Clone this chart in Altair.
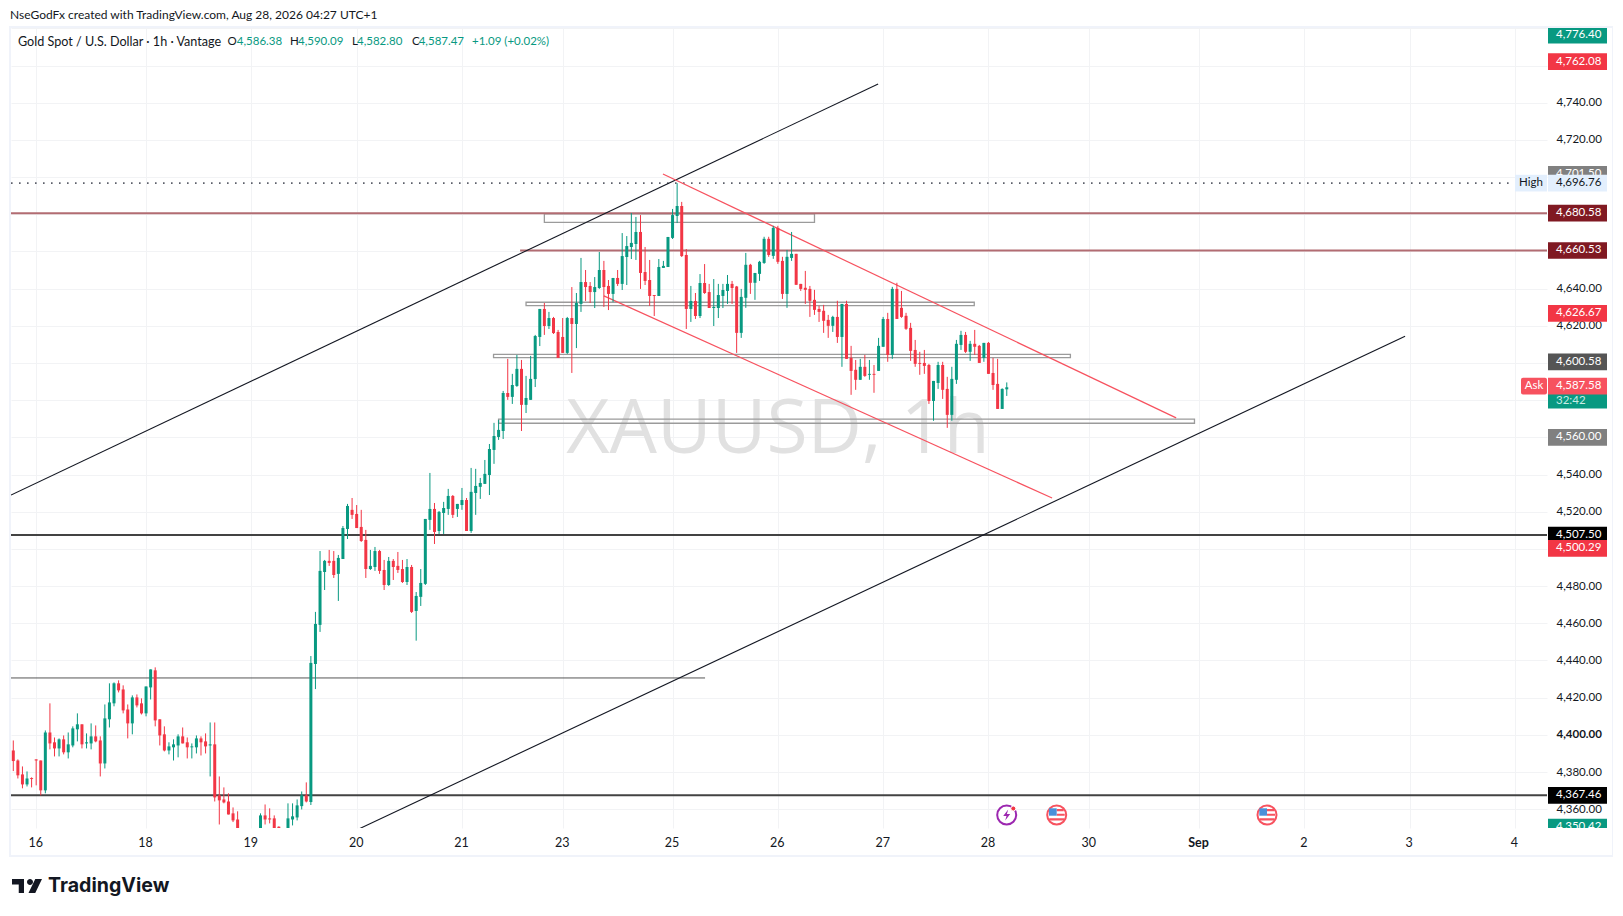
import altair as alt
import pandas as pd

FONT = "Lato"

DIRECTION = ("RRRGRRRGRR" "GRGGGRGGRR" "GGGRRRGRRG" "GRRRGGGRRG" "GRRGRRRRRR"
             "RRGGGRRRRG" "GGGGRGGGGR" "RGGGRRRRGG" "RRGRRRGRGG" "GGRGGGRGGR"
             "GGGGGGGGRG" "GRGGGGRGRR" "RGRGGRRGGR" "RGRGGGGRRR" "RGGGGGRRGR"
             "GRRGGGGRRG" "GRGGGRGRRG" "GRRRRRRRRG" "RGRRRGRGRG" "GRGRRRRRRR"
             "RGGRRGGGRG" "RRGRRRGG")

HIGH = [4397.1,4386.9,4383.1,4380.4,4377.2,4386.9,4386.3,4402.5,4417.1,4398.7,
        4398.2,4399.8,4401.4,4404.7,4411.7,4405.8,4400.9,4406.3,4405.2,4399.3,
        4416.5,4427.9,4428.4,4429.5,4426.8,4416.5,4421.4,4421.9,4419.8,4426.2,
        4435.4,4436.5,4408.5,4404.7,4396.1,4397.7,4400.4,4404.1,4398.7,4395.5,
        4399.8,4399.3,4400.9,4406.8,4406.8,4377.7,4371.8,4368.6,4361.0,4358.9,
        4348.5,4347.0,4346.0,4349.0,4357.8,4362.6,4360.5,4356.7,4350.8,4349.0,
        4363.2,4363.2,4365.3,4369.6,4374.5,4442.6,4466.4,4499.2,4494.4,4499.8,
        4499.2,4497.1,4512.7,4524.6,4527.8,4524.0,4521.4,4510.6,4499.8,4501.4,
        4499.8,4494.4,4496.0,4494.9,4498.7,4494.4,4494.9,4491.7,4477.1,4489.5,
        4516.5,4541.3,4525.1,4520.8,4525.7,4532.7,4529.4,4524.6,4533.2,4527.8,
        4544.0,4543.5,4538.6,4548.3,4556.9,4568.3,4569.9,4585.5,4602.8,4594.7,
        4604.9,4602.2,4593.6,4604.4,4615.7,4629.7,4632.9,4628.1,4625.4,4618.4,
        4624.8,4625.4,4641.5,4638.3,4657.2,4650.7,4644.2,4646.9,4660.4,4655.6,
        4645.3,4646.4,4650.7,4670.6,4669.0,4681.4,4679.3,4680.3,4663.1,4656.1,
        4637.2,4656.6,4655.6,4668.5,4683.6,4697.5,4687.4,4662.0,4642.1,4638.3,
        4648.5,4653.9,4643.2,4645.8,4643.2,4643.2,4648.0,4644.8,4642.1,4640.5,
        4659.9,4654.0,4649.1,4655.6,4668.6,4668.6,4674.5,4674.5,4657.8,4661.5,
        4671.2,4659.4,4643.2,4650.2,4642.1,4640.0,4631.4,4631.9,4626.5,4626.0,
        4634.1,4632.4,4634.1,4609.8,4602.2,4602.8,4604.9,4602.2,4599.5,4614.1,
        4625.4,4627.6,4641.6,4643.8,4639.4,4627.6,4622.2,4613.0,4606.6,4607.6,
        4600.1,4590.9,4601.2,4601.2,4593.1,4598.5,4613.0,4617.9,4617.3,4612.5,
        4618.4,4610.3,4611.4,4611.9,4603.3,4602.8,4586.9,4590.09]

BODY_TOP = [4391.7,4386.3,4378.8,4376.6,4376.8,4386.9,4386.3,4401.4,4401.4,4396.1,
            4397.7,4397.7,4395.0,4403.6,4405.8,4405.8,4396.1,4399.3,4399.3,4397.1,
            4409.0,4417.6,4427.9,4427.9,4424.6,4413.8,4420.3,4420.3,4417.1,4426.2,
            4435.4,4434.9,4408.5,4400.4,4393.9,4395.0,4399.3,4399.3,4396.1,4393.9,
            4398.2,4398.2,4396.6,4395.0,4395.0,4367.5,4365.3,4364.2,4357.8,4354.5,
            4347.5,4343.0,4344.0,4346.0,4356.7,4356.7,4355.1,4355.1,4350.6,4347.0,
            4355.1,4356.2,4362.1,4367.5,4367.5,4438.9,4459.9,4488.5,4493.9,4493.9,
            4493.9,4495.5,4511.6,4523.5,4521.4,4519.2,4512.2,4505.2,4491.2,4499.2,
            4499.2,4489.0,4493.9,4493.9,4491.2,4489.5,4490.6,4490.6,4475.0,4482.0,
            4516.5,4521.9,4521.9,4520.3,4522.4,4528.9,4528.9,4524.6,4526.7,4526.7,
            4531.1,4534.3,4535.9,4540.8,4554.2,4561.2,4564.5,4584.4,4584.4,4588.7,
            4597.4,4597.4,4581.7,4592.0,4615.1,4629.7,4629.7,4624.8,4624.8,4617.3,
            4614.6,4624.8,4624.8,4632.9,4644.2,4644.2,4642.1,4641.5,4650.7,4650.7,
            4642.1,4646.4,4646.4,4658.2,4663.6,4665.3,4671.2,4671.2,4649.6,4645.3,
            4637.2,4652.3,4652.9,4668.5,4680.3,4685.2,4685.2,4658.8,4634.0,4634.0,
            4643.7,4643.7,4638.8,4630.8,4637.2,4639.9,4643.2,4643.2,4641.8,4636.2,
            4653.5,4653.5,4649.1,4655.1,4667.5,4667.5,4673.4,4673.4,4655.6,4657.8,
            4659.4,4659.4,4643.2,4641.1,4640.5,4634.6,4629.7,4628.7,4623.8,4625.4,
            4625.4,4632.4,4632.4,4603.3,4596.9,4598.5,4598.5,4594.7,4594.7,4609.8,
            4624.3,4624.3,4640.5,4640.5,4630.3,4626.0,4619.5,4607.6,4600.6,4600.6,
            4599.5,4590.9,4599.5,4599.5,4586.6,4592.0,4610.9,4615.7,4615.7,4610.9,
            4610.9,4609.8,4611.4,4611.4,4595.2,4589.3,4586.6,4587.47]

BODY_BOTTOM = [4386.0,4378.3,4373.4,4373.4,4376.3,4386.3,4370.2,4370.2,4395.5,4392.8,
               4392.8,4390.7,4390.7,4394.4,4403.1,4395.0,4395.5,4395.5,4396.6,4384.7,
               4384.7,4408.5,4417.1,4424.1,4413.3,4406.3,4406.3,4416.0,4411.7,4411.7,
               4425.7,4407.9,4399.8,4391.7,4391.7,4393.4,4394.4,4395.5,4393.4,4393.4,
               4393.4,4396.1,4393.9,4394.4,4366.4,4364.8,4363.7,4357.2,4354.0,4349.0,
               4343.0,4340.0,4340.0,4344.0,4346.0,4354.5,4354.5,4349.0,4347.0,4345.0,
               4348.0,4354.5,4355.6,4361.7,4364.2,4363.9,4438.3,4459.4,4487.9,4492.8,
               4486.3,4486.9,4494.9,4511.1,4518.7,4511.6,4504.6,4489.5,4489.5,4490.6,
               4488.5,4480.9,4480.9,4490.6,4489.0,4482.5,4482.5,4466.4,4466.9,4474.5,
               4481.5,4516.0,4509.5,4510.0,4519.7,4521.9,4518.7,4521.9,4524.0,4510.0,
               4510.0,4530.5,4533.8,4535.4,4540.2,4553.7,4560.7,4563.9,4582.3,4582.3,
               4588.2,4578.0,4578.0,4580.7,4591.9,4614.6,4620.5,4620.5,4616.7,4603.3,
               4606.0,4606.0,4621.6,4621.6,4632.4,4641.5,4638.8,4638.8,4641.0,4641.5,
               4637.8,4637.8,4643.2,4643.2,4657.7,4663.1,4664.7,4649.1,4644.8,4636.7,
               4636.7,4636.7,4651.8,4652.3,4668.0,4679.8,4658.2,4629.7,4629.7,4625.9,
               4625.9,4638.3,4630.2,4630.2,4630.2,4636.7,4639.4,4641.0,4616.8,4616.8,
               4635.7,4643.8,4643.8,4648.6,4654.5,4658.8,4658.3,4655.1,4637.8,4637.8,
               4657.2,4642.7,4640.5,4640.0,4634.1,4629.2,4628.1,4623.3,4620.6,4620.6,
               4614.6,4614.6,4602.8,4596.3,4591.5,4591.5,4593.6,4594.2,4594.2,4596.3,
               4609.3,4604.9,4604.9,4624.3,4625.4,4619.0,4607.1,4600.1,4600.1,4599.0,
               4580.1,4580.1,4589.8,4586.1,4572.6,4572.6,4591.5,4610.3,4606.6,4606.6,
               4609.3,4600.6,4603.3,4594.7,4588.7,4575.8,4575.8,4586.38]

LOW = [4380.6,4376.6,4371.3,4372.3,4371.8,4372.9,4367.5,4368.6,4392.3,4388.5,
       4388.5,4389.6,4387.4,4393.4,4396.6,4392.8,4392.8,4392.3,4396.1,4377.7,
       4382.0,4404.1,4415.5,4423.0,4411.7,4398.2,4400.4,4414.9,4411.1,4410.1,
       4419.2,4404.7,4394.4,4391.2,4389.6,4386.3,4388.0,4395.5,4387.4,4387.4,
       4390.1,4389.0,4390.1,4377.7,4364.2,4351.8,4363.2,4357.2,4353.1,4347.0,
       4341.0,4338.0,4338.0,4342.0,4344.0,4351.8,4352.4,4347.0,4345.0,4343.0,
       4346.0,4351.3,4354.0,4359.9,4363.7,4362.3,4424.8,4455.6,4478.2,4491.2,
       4484.7,4472.3,4494.9,4505.7,4516.5,4511.6,4504.1,4484.7,4489.0,4488.5,
       4486.9,4478.2,4480.4,4483.6,4487.4,4482.0,4480.9,4465.8,4450.9,4469.6,
       4480.9,4510.6,4503.0,4508.4,4508.4,4518.7,4517.0,4517.6,4521.4,4510.0,
       4509.0,4518.7,4527.3,4535.4,4529.4,4546.2,4559.1,4559.6,4580.7,4578.5,
       4587.7,4563.9,4573.6,4580.7,4587.6,4609.7,4615.7,4618.9,4616.2,4603.3,
       4606.0,4605.4,4595.2,4608.6,4628.1,4634.0,4632.9,4630.2,4640.5,4630.8,
       4629.1,4633.4,4642.1,4639.9,4642.6,4656.6,4656.1,4640.5,4642.6,4631.3,
       4625.9,4636.7,4651.8,4652.3,4667.4,4676.0,4657.7,4618.9,4622.7,4624.3,
       4624.8,4637.8,4630.2,4620.5,4624.8,4630.2,4632.4,4632.4,4606.0,4614.1,
       4630.3,4637.8,4634.6,4644.8,4654.0,4657.8,4656.7,4654.0,4635.1,4630.3,
       4655.6,4642.7,4639.4,4632.4,4625.4,4626.5,4622.7,4616.8,4614.1,4617.3,
       4611.4,4598.5,4602.8,4583.4,4586.1,4591.5,4593.1,4591.5,4584.5,4596.3,
       4609.3,4601.2,4602.8,4624.3,4624.9,4618.4,4601.7,4598.5,4594.2,4594.7,
       4578.5,4569.4,4586.6,4581.2,4565.6,4569.4,4589.3,4607.6,4606.0,4601.7,
       4604.9,4600.6,4601.2,4594.7,4586.1,4575.8,4575.8,4582.80]

TICK_BARS = [5, 29, 52, 75, 98, 120, 144, 167, 190, 213, 235, 259, 282, 305, 328]
TICK_LABELS = ["16", "18", "19", "20", "21", "23", "25", "26", "27", "28", "30", "Sep", "2", "3", "4"]
PRICE_TICKS = [4360 + 20 * k for k in range(22)]
PRICE_LABELS = [4740, 4720, 4640, 4620, 4540, 4520, 4480, 4460, 4440, 4420, 4400, 4380, 4360]

TRENDS = pd.DataFrame({
    "a": [-0.5, 75.5], "b": [188.9, 304.0], "pa": [4529.0, 4349.4], "pb": [4750.1, 4614.4],
})
RED_TRENDS = pd.DataFrame({
    "a": [141.9, 129.0], "b": [254.0, 226.9], "pa": [4701.7, 4636.1], "pb": [4570.5, 4527.4],
})
ZONES = pd.DataFrame({
    "a": [116, 112, 104.9, 106], "b": [175, 209.9, 230.9, 258],
    "pa": [4680.2, 4632.7, 4604.7, 4569.8], "pb": [4675.7, 4630.9, 4602.9, 4567.6],
})
LEVELS = pd.DataFrame({
    "a": [-0.5, 110.7, -0.5, -0.5, -0.5],
    "b": [335, 335, 335, 335, 151.1],
    "p": [4680.58, 4660.53, 4507.50, 4367.46, 4430.6],
    "c": ["#b26c72", "#b26c72", "#434343", "#434343", "#434343"],
    "w": [2, 2, 2, 2, 0.9],
})

# price-axis badges, later rows drawn on top
BADGES = [
    (4776.40, "4,776.40", "#089981", "#ffffff"),
    (4762.08, "4,762.08", "#f23645", "#ffffff"),
    (4701.50, "4,701.50", "#808080", "#ffffff"),
    (4696.76, "4,696.76", "#e3effd", "#131722"),
    (4680.58, "4,680.58", "#801922", "#ffffff"),
    (4660.53, "4,660.53", "#801922", "#ffffff"),
    (4626.67, "4,626.67", "#f23645", "#ffffff"),
    (4600.58, "4,600.58", "#555555", "#ffffff"),
    (4587.58, "4,587.58", "#f7525f", "#ffffff"),
    (4560.00, "4,560.00", "#808080", "#ffffff"),
    (4507.50, "4,507.50", "#000000", "#ffffff"),
    (4500.29, "4,500.29", "#f23645", "#ffffff"),
    (4367.46, "4,367.46", "#000000", "#ffffff"),
    (4350.42, "4,350.42", "#089981", "#ffffff"),
]

DOMAIN_X = [-0.5, 335.0]
DOMAIN_Y = [4349.9, 4780.2]
UNIT_PX = 1.859
OX, OY = 11, 28
NUM_SIZE = 11.5

SCALE_X = alt.Scale(domain=DOMAIN_X, nice=False, zero=False, padding=0)
SCALE_Y = alt.Scale(domain=DOMAIN_Y, nice=False, zero=False, padding=0)

tick_map = ",".join(f"{b}:'{t}'" for b, t in zip(TICK_BARS, TICK_LABELS))
price_show = ",".join(str(p) for p in PRICE_LABELS)

AXIS_X = alt.Axis(
    values=TICK_BARS, title=None, grid=True, gridColor="#f2f3f5", gridWidth=1, domain=False, ticks=False,
    labelExpr=f"({{{tick_map}}})[datum.value]",
    labelFont=FONT, labelFontSize=12.5, labelColor="#131722", labelPadding=8, labelAngle=0,
    labelFlush=False, labelOverlap=False, labelOffset=-1,
    labelFontWeight={"condition": {"test": "datum.value===259", "value": "bold"}, "value": "normal"},
)
AXIS_Y = alt.Axis(
    values=PRICE_TICKS, orient="right", title=None, grid=True, gridColor="#f2f3f5", gridWidth=1,
    domain=False, ticks=False, labelPadding=9, labelFont=FONT, labelFontSize=NUM_SIZE, labelColor="#131722",
    labelOverlap=False, labelFlush=False,
    labelExpr=f"indexof([{price_show}],datum.value)>=0 ? format(datum.value,',.2f') : ''",
    labelFontWeight={"condition": {"test": "datum.value===4400", "value": "bold"}, "value": "normal"},
)


def sx(px_value):
    return px_value - OX


def sy(px_value):
    return px_value - OY


def recalibrate(values):
    """The readings were first taken with 1.855 px per dollar; the axis grid gives 1.859."""
    return [4720 + (140 - (438.3 + (4560 - v) * 1.855)) / UNIT_PX for v in values]


one = pd.DataFrame({"k": [0]})


def text(s, x, y, size=12, color="#131722", align="left", weight="normal", font=FONT):
    return (
        alt.Chart(pd.DataFrame({"t": [s]}))
        .mark_text(align=align, baseline="middle", fontSize=size, color=color, fontWeight=weight, font=font)
        .encode(x=alt.value(sx(x)), y=alt.value(sy(y)), text="t:N")
    )


def box(x0, x1, y0, y1, **kw):
    return alt.Chart(one).mark_rect(**kw).encode(
        x=alt.value(sx(x0)), x2=alt.value(sx(x1)), y=alt.value(sy(y0)), y2=alt.value(sy(y1))
    )


def glyph(x, y, shape, side, color):
    return alt.Chart(one).mark_point(
        shape=shape, size=side * side, filled=True, color=color, opacity=1, strokeWidth=0
    ).encode(x=alt.value(sx(x)), y=alt.value(sy(y)))


def ring(x, y, d, stroke, fill="#ffffff", sw=2):
    return alt.Chart(one).mark_point(
        shape="circle", size=d * d, filled=True, fill=fill, stroke=stroke, strokeWidth=sw, opacity=1
    ).encode(x=alt.value(sx(x)), y=alt.value(sy(y)))


def py(field):
    return alt.Y(field, scale=SCALE_Y, axis=AXIS_Y)


def px(field):
    return alt.X(field, scale=SCALE_X, axis=AXIS_X)


base = alt.Chart(pd.DataFrame({"i": [0], "p": [4500]})).mark_rule(opacity=0).encode(
    x=px("i:Q"), y=py("p:Q"),
)

watermark = text("XAUUSD, 1h", 778, 430, size=75, color="#e1e1e1", align="center", font="Open Sans")

candles = pd.DataFrame({
    "i": list(range(len(HIGH))),
    "high": recalibrate(HIGH), "low": recalibrate(LOW),
    "top": recalibrate(BODY_TOP), "bottom": recalibrate(BODY_BOTTOM),
    "dir": list(DIRECTION),
})
color = alt.Color("dir:N", scale=alt.Scale(domain=["G", "R"], range=["#089981", "#f23645"]), legend=None)
wicks = alt.Chart(candles).mark_rule(strokeWidth=1, clip=True).encode(
    x=px("i:Q"), y=py("high:Q"), y2="low:Q", color=color
)
bodies = alt.Chart(candles).mark_bar(size=3, clip=True).encode(
    x=px("i:Q"), y=py("top:Q"), y2="bottom:Q", color=color
)


def seg(df, col, width, opacity=1.0):
    return alt.Chart(df).mark_rule(color=col, strokeWidth=width, opacity=opacity, clip=True).encode(
        x=px("a:Q"), x2="b:Q", y=py("pa:Q"), y2="pb:Q",
    )


black_lines = seg(TRENDS, "#131722", 1.1)
red_lines = seg(RED_TRENDS, "#f7525f", 1.2)
zones = alt.Chart(ZONES).mark_rect(fillOpacity=0, stroke="#9b9b9b", strokeWidth=1.3, clip=True).encode(
    x=px("a:Q"), x2="b:Q", y=py("pa:Q"), y2="pb:Q",
)
levels = alt.Chart(LEVELS).mark_rule(clip=True).encode(
    x=px("a:Q"), x2="b:Q", y=py("p:Q"),
    color=alt.Color("c:N", scale=None, legend=None),
    strokeWidth=alt.StrokeWidth("w:Q", scale=None, legend=None),
)
dotted = alt.Chart(pd.DataFrame({"a": [-0.5], "b": [328.0], "p": [4696.76]})).mark_rule(
    color="#5d606b", strokeWidth=1.6, strokeDash=[1.6, 6.4], clip=True
).encode(x=px("a:Q"), x2="b:Q", y=py("p:Q"))

half = 8.35 / UNIT_PX
badge_df = pd.DataFrame(BADGES, columns=["p", "label", "bg", "fg"])
badge_df["up"] = badge_df.p + half
badge_df["dn"] = (badge_df.p - half).clip(lower=DOMAIN_Y[0])

badge_layers = []
countdown_p = 4579.6
badge_layers.append(
    alt.Chart(pd.DataFrame({"pa": [countdown_p + 7 / UNIT_PX], "pb": [countdown_p - 7.5 / UNIT_PX]}))
    .mark_rect(color="#089981")
    .encode(x=alt.value(sx(1548)), x2=alt.value(sx(1607)), y=py("pa:Q"), y2="pb:Q")
)
badge_layers.append(
    alt.Chart(pd.DataFrame({"t": ["32:42"], "p": [countdown_p]}))
    .mark_text(align="left", baseline="middle", font=FONT, fontSize=NUM_SIZE, color="#c9ece4")
    .encode(x=alt.value(sx(1556)), y=py("p:Q"), text="t:N")
)
for row in badge_df.itertuples():
    frame = pd.DataFrame({"pa": [row.up], "pb": [row.dn], "p": [row.p], "t": [row.label]})
    badge_layers.append(
        alt.Chart(frame).mark_rect(color=row.bg).encode(
            x=alt.value(sx(1548)), x2=alt.value(sx(1607)), y=py("pa:Q"), y2="pb:Q",
        )
    )
    badge_layers.append(
        alt.Chart(frame).mark_text(
            align="left", baseline="middle", font=FONT, fontSize=NUM_SIZE, color=row.fg,
        ).encode(x=alt.value(sx(1556)), y=py("p:Q"), text="t:N")
    )

high_tag = pd.DataFrame({"pa": [4696.76 + half], "pb": [4696.76 - half], "p": [4696.76], "t": ["High"]})
ask_tag = pd.DataFrame({"pa": [4587.58 + half], "pb": [4587.58 - half], "p": [4587.58], "t": ["Ask"]})
tags = [
    alt.Chart(high_tag).mark_rect(color="#e3effd").encode(
        x=alt.value(sx(1515)), x2=alt.value(sx(1547)), y=py("pa:Q"), y2="pb:Q"),
    alt.Chart(high_tag).mark_text(align="center", baseline="middle", font=FONT, fontSize=NUM_SIZE, color="#131722").encode(
        x=alt.value(sx(1531)), y=py("p:Q"), text="t:N"),
    alt.Chart(ask_tag).mark_rect(color="#f7525f", cornerRadius=2).encode(
        x=alt.value(sx(1521)), x2=alt.value(sx(1547)), y=py("pa:Q"), y2="pb:Q"),
    alt.Chart(ask_tag).mark_text(align="center", baseline="middle", font=FONT, fontSize=NUM_SIZE, color="#ffffff").encode(
        x=alt.value(sx(1534)), y=py("p:Q"), text="t:N"),
]

mask = box(1548, 1612, 828.5, 855, color="#ffffff")
outer = box(10, 1613, 27, 856, fillOpacity=0, stroke="#f0f3fa", strokeWidth=2)

BOLT = "M0.15 -0.55 L-0.35 0.1 H-0.02 L-0.15 0.55 L0.35 -0.1 H0.02 Z"
CANTON = "M-0.77 -0.67 H0 V0.07 H-0.77 Z"
STRIPES = "M0 -0.6 H0.7 V-0.38 H0 Z M0 -0.12 H0.8 V0.08 H0 Z M-0.75 0.32 H0.75 V0.55 H-0.75 Z"
LOGO = ("M-1 -0.47 H-0.2 V0.47 H-0.55 V-0.1 H-1 Z "
        "M0 -0.27 a0.2 0.2 0 1 0 0.4 0 a0.2 0.2 0 1 0 -0.4 0 Z "
        "M0.55 -0.47 H1 L0.55 0.47 H0.1 Z")


def flag(x):
    return [ring(x, 815, 19, "#f7525f"), glyph(x, 815, STRIPES, 20, "#f7525f"), glyph(x, 815, CANTON, 20, "#4a90d9")]


icons = [ring(1006.7, 815, 19, "#9c27b0"), glyph(1006.7, 815, BOLT, 20, "#9c27b0"),
         ring(1013.3, 808.5, 5, "#ffffff", fill="#f23645", sw=1)] + flag(1056.7) + flag(1267)

LEGEND_Y = 42
header = [
    text("NseGodFx created with TradingView.com, Aug 28, 2026 04:27 UTC+1", 10, 15, size=12),
    text("Gold Spot / U.S. Dollar · 1h · Vantage", 18, LEGEND_Y, size=12.6),
    text("O", 227.6, LEGEND_Y, size=NUM_SIZE),
    text("4,586.38", 236.8, LEGEND_Y, size=NUM_SIZE, color="#089981"),
    text("H", 290, LEGEND_Y, size=NUM_SIZE),
    text("4,590.09", 298, LEGEND_Y, size=NUM_SIZE, color="#089981"),
    text("L", 351.9, LEGEND_Y, size=NUM_SIZE),
    text("4,582.80", 357, LEGEND_Y, size=NUM_SIZE, color="#089981"),
    text("C", 411.9, LEGEND_Y, size=NUM_SIZE),
    text("4,587.47", 418.7, LEGEND_Y, size=NUM_SIZE, color="#089981"),
    text("+1.09 (+0.02%)", 472, LEGEND_Y, size=NUM_SIZE, color="#089981"),
]

logo = [glyph(27, 886, LOGO, 30, "#131722"),
        text("TradingView", 48, 886, size=19.6, weight="bold", font="Inter")]

chart = alt.layer(
    base, watermark, zones, levels, dotted, black_lines, red_lines, wicks, bodies,
    *badge_layers, *tags, mask, outer, *icons, *header, *logo,
).properties(
    width=1536, height=800, background="#ffffff",
    padding={"left": 3, "top": 20, "right": 66, "bottom": 72},
    autosize=alt.AutoSizeParams(type="none"),
).configure_view(stroke=None)

chart.save("out.html", embed_options={"renderer": "svg", "actions": False})
